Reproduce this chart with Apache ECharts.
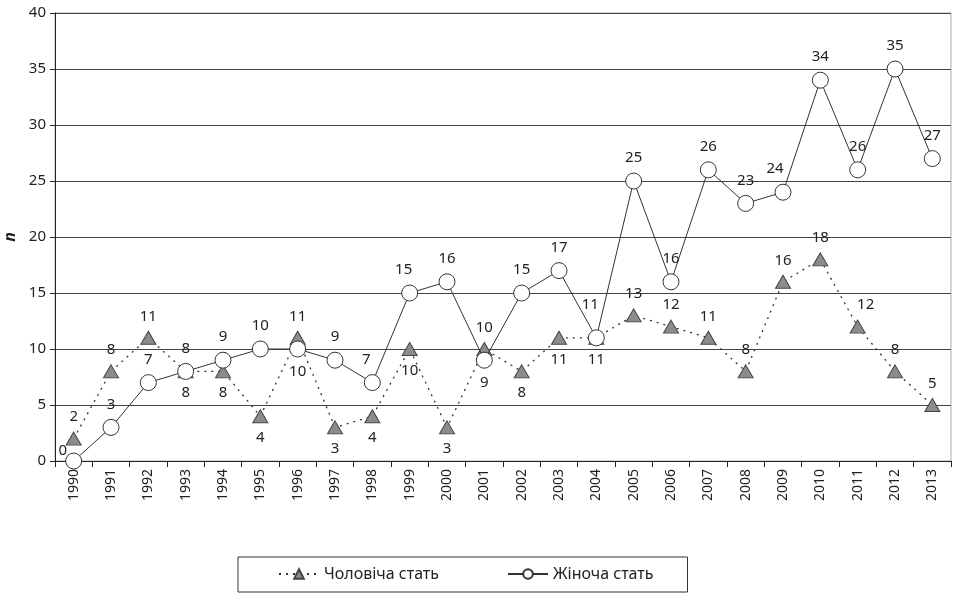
<!DOCTYPE html>
<html><head><meta charset="utf-8">
<script src="https://cdn.jsdelivr.net/npm/echarts@6/dist/echarts.min.js"></script>
<style>html,body{margin:0;padding:0;background:#fff}#c{width:955px;height:594px}</style>
</head><body><div id="c"></div>
<script>
const years = ['1990','1991','1992','1993','1994','1995','1996','1997','1998','1999','2000','2001','2002','2003','2004','2005','2006','2007','2008','2009','2010','2011','2012','2013'];
const male = [2,8,11,8,8,4,11,3,4,10,3,10,8,11,11,13,12,11,8,16,18,12,8,5];
const female = [0,3,7,8,9,10,10,9,7,15,16,9,15,17,11,25,16,26,23,24,34,26,35,27];
const yTicks = [0,5,10,15,20,25,30,35,40];
const seriesNames = ['Чоловіча стать','Жіноча стать'];

// label placement (style, separate from data)
const maleLabelPos = ['top','top','top','bottom','bottom','bottom','top','bottom','bottom','bottom','bottom','top','bottom','bottom','bottom','top','top','top','top','top','top','top','top','top'];
const femaleLabelPos = ['top','top','top','top','top','top','bottom','top','top','top','top','bottom','top','top','top','top','top','top','top','top','top','top','top','top'];
const femaleLabelOffset = {0:[-11,13],8:[-6,0],14:[-6,-10],9:[-6,0],19:[-8,0]};
const maleLabelOffset = {21:[8,0]};

const FONT = 'Noto Sans';
function build(vals, pos, offs){
  return vals.map((v,i)=>({value:v,label:{position:pos[i],offset:offs[i]||[0,0]}}));
}
const chart = echarts.init(document.getElementById('c'));
chart.setOption({
  animation:false,
  textStyle:{fontFamily:FONT},
  grid:{left:55,right:4,top:13,bottom:133,containLabel:false,outerBoundsMode:'none',show:true,borderColor:'#aaa',borderWidth:1},
  legend:{
    left:238, top:557, width:450,
    itemGap:68, itemWidth:40, itemHeight:12,
    padding:[9,34,10,40],
    borderColor:'#333', borderWidth:1,
    textStyle:{fontSize:16,color:'#222',fontFamily:FONT},
    data:seriesNames
  },
  xAxis:{
    type:'category', data:years, boundaryGap:true,
    axisLine:{lineStyle:{color:'#222'}},
    axisTick:{show:true,interval:0,length:6,lineStyle:{color:'#222'}},
    axisLabel:{rotate:90,interval:0,fontSize:14,color:'#222',margin:8,fontFamily:FONT}
  },
  yAxis:{
    type:'value', min:yTicks[0], max:yTicks[yTicks.length-1], interval:5,
    name:'n', nameLocation:'middle', nameGap:36, nameRotate:90,
    nameTextStyle:{fontSize:16,fontStyle:'italic',fontWeight:'bold',color:'#222',fontFamily:FONT},
    axisLine:{show:true,lineStyle:{color:'#222'}},
    axisTick:{show:true,length:5,lineStyle:{color:'#222'}},
    axisLabel:{fontSize:15,color:'#222',margin:9,fontFamily:FONT},
    splitLine:{lineStyle:{color:'#444',width:1}}
  },
  series:[
    {
      name:seriesNames[0], type:'line',
      data:build(male,maleLabelPos,maleLabelOffset),
      symbol:'triangle', symbolSize:[15,13],
      itemStyle:{color:'#8c8c8c',borderColor:'#444',borderWidth:1},
      lineStyle:{color:'#333',width:1.3,type:[2,5]},
      label:{show:true,fontSize:15,color:'#222',distance:7,fontFamily:FONT},
      z:2
    },
    {
      name:seriesNames[1], type:'line',
      data:build(female,femaleLabelPos,femaleLabelOffset),
      symbol:'circle', symbolSize:16,
      itemStyle:{color:'#fff',borderColor:'#333',borderWidth:1},
      lineStyle:{color:'#333',width:1},
      label:{show:true,fontSize:15,color:'#222',distance:7,fontFamily:FONT},
      z:3
    }
  ]
});
</script></body></html>
